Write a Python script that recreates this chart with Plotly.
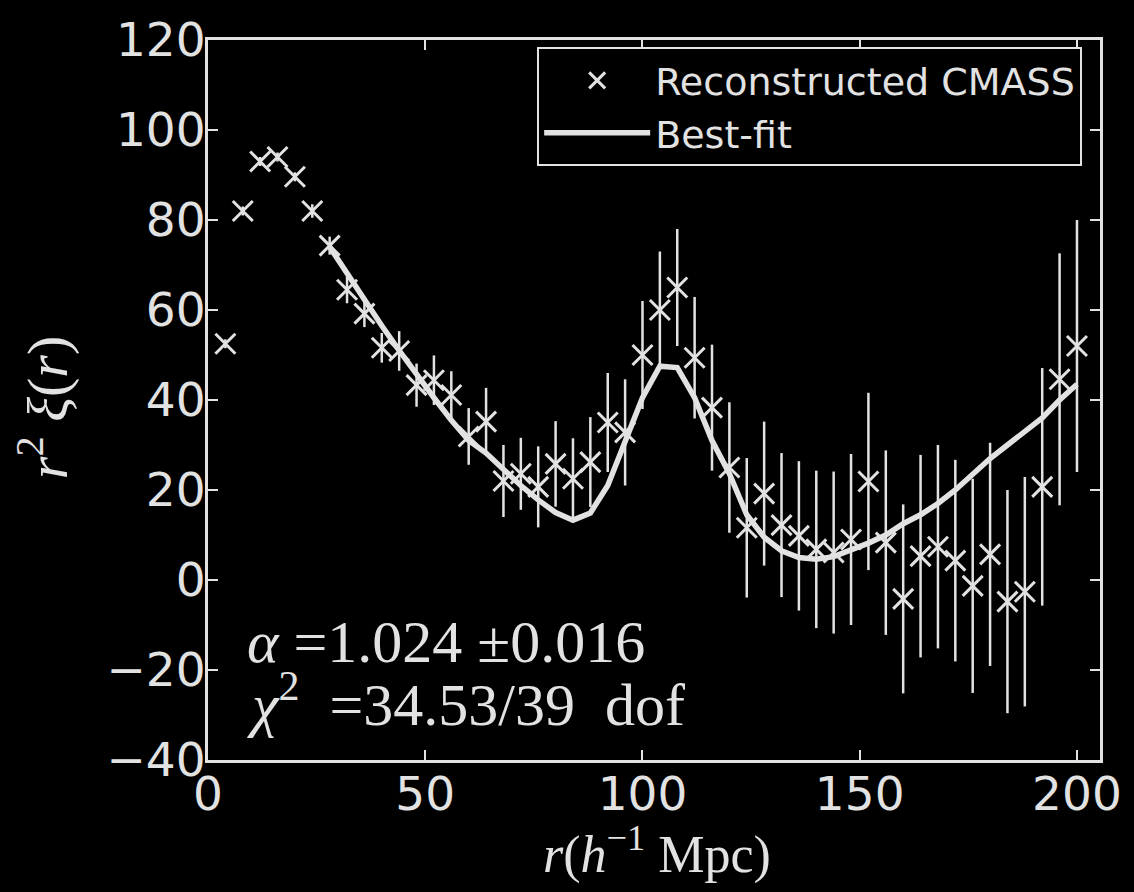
import plotly.graph_objects as go

# ---- data ----
r_data = [4, 8, 12, 16, 20, 24, 28, 32, 36, 40, 44, 48, 52, 56, 60, 64, 68, 72, 76, 80,
          84, 88, 92, 96, 100, 104, 108, 112, 116, 120, 124, 128, 132, 136, 140, 144,
          148, 152, 156, 160, 164, 168, 172, 176, 180, 184, 188, 192, 196, 200]
xi_data = [52.5, 82, 93, 94, 89.6, 82, 74.3, 64.5, 59.2, 51.6, 50.9, 43.3, 44.4, 41.1,
           31.9, 35.2, 22, 23.6, 20.7, 25.8, 22.5, 26.2, 35, 32.8, 50, 60, 65, 49.4, 38.3,
           25, 11.6, 19.2, 12.2, 9.8, 6.8, 6.1, 9, 21.9, 8.3, -4.2, 5.3, 7.4, 4.3, -1.3,
           5.7, -4.8, -2.6, 20.7, 44.6, 52]
xi_err = [1, 1, 1, 1, 1, 1.5, 2, 3, 3, 3.3, 4.4, 4.8, 5.5, 5.3, 6.3, 7.5, 8, 8, 9, 9.5,
          9, 10, 11, 11.8, 12, 13, 13, 13.5, 14, 14.5, 15.5, 16, 16, 16.6, 17.5, 18,
          19, 19.7, 20.5, 21, 22.5, 22.6, 22.4, 23.8, 24.8, 24.8, 25.5, 26.4, 28, 28]

r_fit = [28, 32, 36, 40, 44, 48, 52, 56, 60, 64, 68, 72, 76, 80, 84, 88, 92, 96, 100,
         104, 108, 112, 116, 120, 124, 128, 132, 136, 140, 144, 148, 152, 156, 160, 164,
         168, 172, 176, 180, 184, 188, 192, 196, 200]
xi_fit = [74, 68, 62, 56.5, 51, 45.5, 40.5, 35.5, 31, 28.2, 24.5, 21, 17.8, 15, 13.3,
          14.9, 21, 31, 40.5, 47.5, 47.2, 40.5, 31, 23.6, 14.5, 9.5, 6.5, 5, 4.6, 5.2,
          6.6, 8.2, 10, 12.5, 14.5, 17, 20, 23.5, 27, 30, 33, 36, 40, 43.5]

y_ticks = [-40, -20, 0, 20, 40, 60, 80, 100, 120]
y_ticktext = ["\u221240", "\u221220", "0", "20", "40", "60", "80", "100", "120"]
x_ticks = [0, 50, 100, 150, 200]

FG = "#e2e2e2"
TICKFONT = dict(family="DejaVu Sans", size=47, color=FG)
SERIF = "Liberation Serif"

fig = go.Figure()
fig.add_trace(go.Scatter(
    x=r_data, y=xi_data, mode="markers", name="Reconstructed CMASS",
    marker=dict(symbol="x-thin", size=20, color=FG, line=dict(width=3, color=FG)),
    error_y=dict(type="data", array=xi_err, visible=True, color=FG, thickness=2.5, width=0),
))
fig.add_trace(go.Scatter(
    x=r_fit, y=xi_fit, mode="lines", name="Best-fit",
    line=dict(color=FG, width=5.5),
))

axis_common = dict(showline=True, linecolor=FG, linewidth=3, mirror="ticks",
                   ticks="inside", ticklen=10, tickwidth=2, tickcolor=FG,
                   showgrid=False, zeroline=False, tickfont=TICKFONT)
fig.update_xaxes(range=[0, 205.3], tickvals=x_ticks, ticktext=[str(v) for v in x_ticks],
                 ticklabelstandoff=-9, **axis_common)
fig.update_yaxes(range=[-40, 120], tickvals=y_ticks, ticktext=y_ticktext,
                 ticklabelstandoff=-10, **axis_common)

fig.update_layout(
    width=1134, height=892,
    margin=dict(l=208, r=34, t=28, b=132),
    paper_bgcolor="black", plot_bgcolor="black",
    showlegend=True,
    legend=dict(x=0.98, y=0.99, xanchor="right", yanchor="top",
                bgcolor="black", bordercolor=FG, borderwidth=2,
                font=dict(family="DejaVu Sans", size=38, color=FG),
                itemwidth=106),
    annotations=[
        dict(text="<i>r</i>(<i>h</i><sup>\u22121</sup> Mpc)", xref="paper", yref="paper",
             x=0.503, y=-0.127, xanchor="center", yanchor="middle", showarrow=False,
             font=dict(family=SERIF, size=52, color=FG)),
        dict(text="<i>r</i><sup>2</sup> <i>\u03be</i>(<i>r</i>)", xref="paper", yref="paper",
             x=-0.185, y=0.49, xanchor="center", yanchor="middle", textangle=-90,
             showarrow=False, font=dict(family=SERIF, size=58, color=FG)),
        dict(text="<i>\u03b1</i> =1.024 \u00b10.016", xref="paper", yref="paper",
             x=0.041, y=0.164, xanchor="left", yanchor="middle", showarrow=False,
             font=dict(family=SERIF, size=60, color=FG)),
        dict(text="<i>\u03c7</i><sup>2</sup>  =34.53/39  dof", xref="paper", yref="paper",
             x=0.041, y=0.083, xanchor="left", yanchor="middle", showarrow=False,
             font=dict(family=SERIF, size=60, color=FG)),
    ],
)

fig.write_html("out.html")
